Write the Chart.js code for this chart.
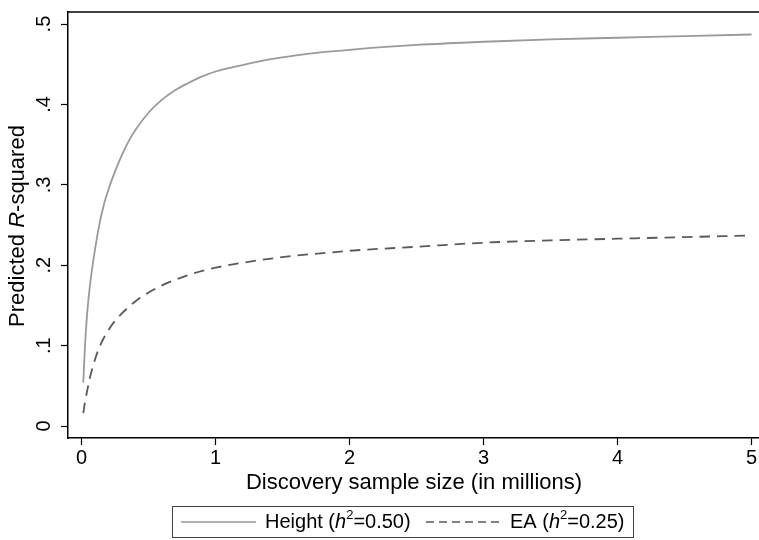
<!DOCTYPE html>
<html>
<head>
<meta charset="utf-8">
<script src="https://cdn.jsdelivr.net/npm/chart.js@4.4.1/dist/chart.umd.min.js"></script>
<style>
  html, body { margin: 0; padding: 0; background: #fff; }
  #wrap { position: relative; width: 759px; height: 540px; }
</style>
</head>
<body>
<div id="wrap"><canvas id="chart" width="759" height="540"></canvas></div>
<script>
// discovery sample size, millions
var sampleSize = [0.012, 0.025, 0.04, 0.06, 0.08, 0.1, 0.13, 0.17, 0.21, 0.25, 0.3, 0.35, 0.4, 0.5, 0.6, 0.7, 0.8, 0.9, 1.0, 1.2, 1.4, 1.6, 1.8, 2.0, 2.5, 3.0, 3.5, 4.0, 4.5, 5.0];
// predicted R-squared, height (h2 = 0.50)
var heightR2 = [0.054, 0.100, 0.138, 0.172, 0.198, 0.220, 0.249, 0.278, 0.299, 0.317, 0.337, 0.354, 0.368, 0.390, 0.406, 0.418, 0.427, 0.435, 0.441, 0.449, 0.456, 0.461, 0.465, 0.468, 0.474, 0.478, 0.481, 0.483, 0.485, 0.487];
// predicted R-squared, EA (h2 = 0.25)
var eaR2 = [0.016, 0.030, 0.043, 0.059, 0.072, 0.083, 0.097, 0.111, 0.122, 0.131, 0.140, 0.148, 0.155, 0.166, 0.175, 0.182, 0.188, 0.193, 0.197, 0.203, 0.208, 0.212, 0.215, 0.218, 0.223, 0.228, 0.231, 0.233, 0.235, 0.237];

var xTicks = [0, 1, 2, 3, 4, 5];
var yTicks = [0, 0.1, 0.2, 0.3, 0.4, 0.5];
var yTickLabels = ['0', '.1', '.2', '.3', '.4', '.5'];

var FONT = '"Liberation Sans", Arial, Helvetica, sans-serif';

function pts(ys) {
  return sampleSize.map(function (x, i) { return { x: x, y: ys[i] }; });
}

// draws rotated y labels, titles, top frame and the legend box
var extras = {
  id: 'extras',
  afterDraw: function (chart) {
    var ctx = chart.ctx;
    var area = chart.chartArea;
    var ys = chart.scales.y;

    ctx.save();
    // top frame line
    ctx.strokeStyle = '#000';
    ctx.lineWidth = 1.5;
    ctx.beginPath();
    ctx.moveTo(area.left, area.top);
    ctx.lineTo(area.right, area.top);
    ctx.stroke();

    // y tick labels, rotated
    ctx.fillStyle = '#000';
    ctx.font = '20px ' + FONT;
    ctx.textAlign = 'center';
    ctx.textBaseline = 'middle';
    yTicks.forEach(function (v, i) {
      ctx.save();
      ctx.translate(44, ys.getPixelForValue(v));
      ctx.rotate(-Math.PI / 2);
      ctx.fillText(yTickLabels[i], 0, 0);
      ctx.restore();
    });

    // y title with italic R
    var parts = [['Predicted ', 'normal'], ['R', 'italic'], ['-squared', 'normal']];
    var w = 0;
    parts.forEach(function (p) { ctx.font = p[1] + ' 22px ' + FONT; w += ctx.measureText(p[0]).width; });
    ctx.save();
    ctx.translate(18, 226);
    ctx.rotate(-Math.PI / 2);
    ctx.textAlign = 'left';
    var px = -w / 2;
    parts.forEach(function (p) {
      ctx.font = p[1] + ' 22px ' + FONT;
      ctx.fillText(p[0], px, 0);
      px += ctx.measureText(p[0]).width;
    });
    ctx.restore();

    // x title
    ctx.font = '22px ' + FONT;
    ctx.textAlign = 'center';
    ctx.fillText('Discovery sample size (in millions)', 414, 483);

    // legend
    ctx.strokeStyle = '#444';
    ctx.lineWidth = 1;
    ctx.strokeRect(172.5, 506.5, 461, 31);
    var ly = 522;
    ctx.strokeStyle = '#9a9a9a';
    ctx.lineWidth = 1.6;
    ctx.beginPath(); ctx.moveTo(181, ly); ctx.lineTo(256, ly); ctx.stroke();
    ctx.strokeStyle = '#5a5a5a';
    ctx.setLineDash([8, 5]);
    ctx.beginPath(); ctx.moveTo(426, ly); ctx.lineTo(501, ly); ctx.stroke();
    ctx.setLineDash([]);

    function legendText(x, pre, post) {
      ctx.textAlign = 'left';
      ctx.fillStyle = '#000';
      ctx.font = '20px ' + FONT;
      ctx.fillText(pre, x, ly); x += ctx.measureText(pre).width;
      ctx.font = 'italic 20px ' + FONT;
      ctx.fillText('h', x, ly); x += ctx.measureText('h').width;
      ctx.font = '13px ' + FONT;
      ctx.fillText('2', x, ly - 7); x += ctx.measureText('2').width;
      ctx.font = '20px ' + FONT;
      ctx.fillText(post, x, ly);
    }
    legendText(265, 'Height (', '=0.50)');
    legendText(510, 'EA (', '=0.25)');
    ctx.restore();
  }
};

new Chart(document.getElementById('chart'), {
  type: 'line',
  data: {
    datasets: [
      {
        label: 'Height',
        data: pts(heightR2),
        borderColor: '#9a9a9a',
        borderWidth: 1.8,
        pointRadius: 0,
        cubicInterpolationMode: 'monotone',
        fill: false
      },
      {
        label: 'EA',
        data: pts(eaR2),
        borderColor: '#5a5a5a',
        borderWidth: 1.8,
        borderDash: [10.5, 7],
        pointRadius: 0,
        cubicInterpolationMode: 'monotone',
        fill: false
      }
    ]
  },
  options: {
    responsive: false,
    animation: false,
    devicePixelRatio: 1,
    layout: { padding: { top: 12, right: 0, left: 0, bottom: 0 } },
    plugins: { legend: { display: false }, tooltip: { enabled: false } },
    scales: {
      x: {
        type: 'linear',
        min: -0.102,
        max: 5.055,
        afterBuildTicks: function (s) { s.ticks = xTicks.map(function (v) { return { value: v }; }); },
        afterFit: function (s) { s.height = 102; },
        border: { display: true, color: '#000', width: 1.5 },
        grid: { drawOnChartArea: false, drawTicks: true, tickLength: 7, tickColor: '#000', tickWidth: 1.2 },
        ticks: { color: '#000', font: { size: 20, family: FONT }, padding: 1, maxRotation: 0 }
      },
      y: {
        type: 'linear',
        min: -0.0149,
        max: 0.515,
        afterBuildTicks: function (s) { s.ticks = yTicks.map(function (v) { return { value: v }; }); },
        afterFit: function (s) { s.width = 68; },
        border: { display: true, color: '#000', width: 1.5 },
        grid: { drawOnChartArea: false, drawTicks: true, tickLength: 7, tickColor: '#000', tickWidth: 1.2 },
        ticks: { display: false }
      }
    }
  },
  plugins: [extras]
});
</script>
</body>
</html>
